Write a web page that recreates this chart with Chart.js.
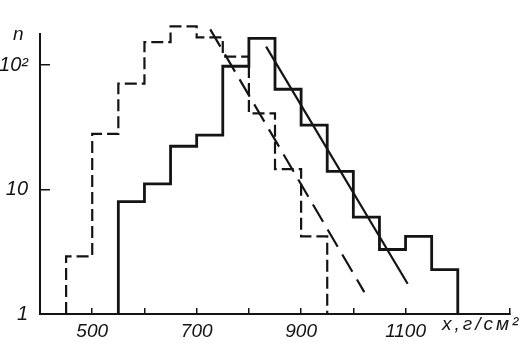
<!DOCTYPE html>
<html><head><meta charset="utf-8">
<script src="https://cdn.jsdelivr.net/npm/chart.js@4"></script>
<style>html,body{margin:0;padding:0;background:#fff}#wrap{width:527px;height:348px}</style>
</head><body><div id="wrap"><canvas id="c" width="527" height="348"></canvas></div>
<script>
// Bin edges (x, g/cm^2) and counts n for the two histograms
const dashedEdges = [450, 500, 550, 600, 650, 700, 750, 800, 850, 900, 950];
const dashedCounts = [2.9, 28, 71, 153, 205, 167, 117, 41, 14.6, 4.2];
const solidEdges = [550, 600, 650, 700, 750, 800, 850, 900, 950, 1000, 1050, 1100, 1150, 1200];
const solidCounts = [8.0, 11.1, 22.3, 27.4, 98, 164, 64, 33, 14, 6.0, 3.3, 4.2, 2.27];
// Exponential fit lines (end points)
const solidFitX = [833, 1104];
const solidFitN = [141, 1.75];
const dashedFitX = [726, 1021];
const dashedFitN = [194, 1.5];
// Axis ticks
const xMin = 400, xMax = 1300, xStep = 100;
const xTickLabels = [500, 700, 900, 1100];
const yTickValues = [1, 10, 100];
const yTickLabels = ['1', '10', '10²'];
const xTitle = 'x,г/см²';
const yTitle = 'n';

function histPoints(edges, counts) {
  const pts = [{x: edges[0], y: 1}];
  counts.forEach((c, i) => pts.push({x: edges[i], y: c}));
  pts.push({x: edges[edges.length - 1], y: 1});
  return pts;
}
function linePoints(xs, ys) { return xs.map((x, i) => ({x, y: ys[i]})); }

const INK = '#141414';
const FONT = '"Liberation Sans", Arial, sans-serif';

const titles = {
  id: 'axisTitles',
  afterDraw(chart) {
    const ctx = chart.ctx, xs = chart.scales.x, ys = chart.scales.y;
    ctx.save();
    ctx.fillStyle = INK;
    ctx.font = 'italic 19px ' + FONT;
    ctx.textBaseline = 'middle';
    ctx.textAlign = 'left';
    ctx.fillText(yTitle, xs.left - 27, ys.top + 1);
    ctx.letterSpacing = '3px';
    ctx.fillText(xTitle, xs.right - 68, ys.bottom + 11);
    ctx.restore();
  }
};

const xTicksAll = [];
for (let v = xMin; v <= xMax; v += xStep) xTicksAll.push(v);

new Chart(document.getElementById('c'), {
  type: 'line',
  data: {
    datasets: [
      {data: histPoints(dashedEdges, dashedCounts), stepped: 'before', borderColor: INK, borderWidth: 2.2, borderDash: [12, 5], clip: false},
      {data: histPoints(solidEdges, solidCounts), stepped: 'before', borderColor: INK, borderWidth: 2.8, clip: false},
      {data: linePoints(solidFitX, solidFitN), borderColor: INK, borderWidth: 2.2, clip: false},
      {data: linePoints(dashedFitX, dashedFitN), borderColor: INK, borderWidth: 2.2, borderDash: [20, 9], clip: false}
    ]
  },
  options: {
    responsive: false,
    animation: false,
    layout: {padding: {top: 18, right: 17, left: 0, bottom: 0}},
    plugins: {legend: {display: false}, tooltip: {enabled: false}},
    elements: {point: {radius: 0}, line: {tension: 0, fill: false}},
    scales: {
      x: {
        type: 'linear', min: xMin, max: xMax,
        afterBuildTicks: s => { s.ticks = xTicksAll.map(v => ({value: v})); },
        ticks: {autoSkip: false, maxRotation: 0, minRotation: 0, padding: 12, color: INK,
          font: {family: FONT, size: 19, style: 'italic'},
          callback: v => xTickLabels.includes(v) ? String(v) : ''},
        grid: {display: true, drawOnChartArea: false, drawTicks: true, tickLength: -6, color: INK, lineWidth: 1.5},
        border: {display: true, color: INK, width: 2},
        afterFit: s => { s.height = 27; }
      },
      y: {
        type: 'logarithmic', min: 1, max: 178,
        afterBuildTicks: s => { s.ticks = yTickValues.map(v => ({value: v})); },
        ticks: {padding: 22, color: INK, font: {family: FONT, size: 20, style: 'italic'},
          callback: v => { const i = yTickValues.indexOf(v); return i >= 0 ? yTickLabels[i] : ''; }},
        grid: {display: true, drawOnChartArea: false, drawTicks: true, tickLength: -10, lineWidth: 1.5,
          color: c => (c.tick && c.tick.value === 1) ? 'rgba(0,0,0,0)' : INK},
        border: {display: true, color: INK, width: 2},
        afterFit: s => { s.width = 40; }
      }
    }
  },
  plugins: [titles]
});
</script></body></html>
